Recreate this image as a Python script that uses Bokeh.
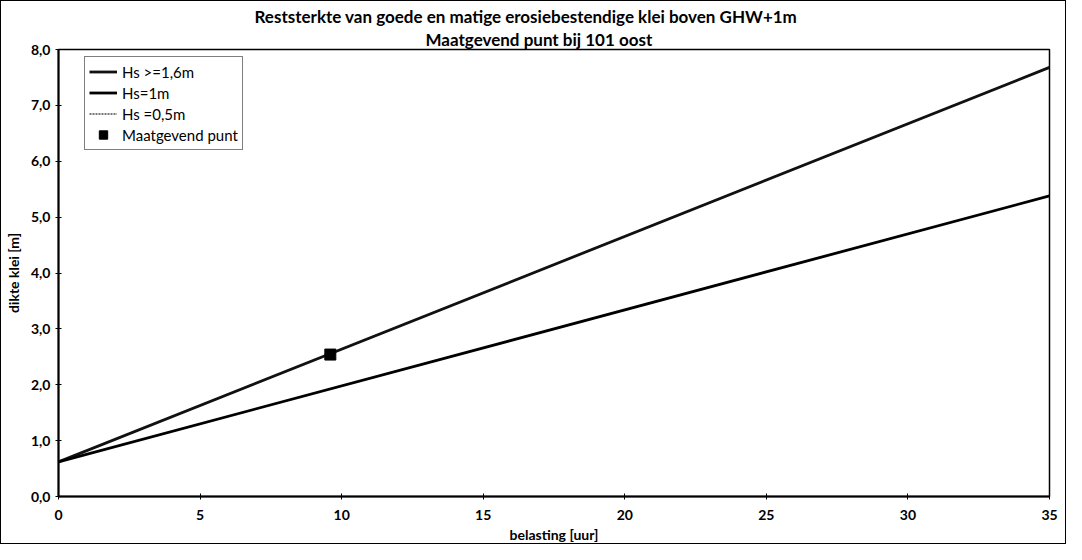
from bokeh.plotting import figure
from bokeh.models import (ColumnDataSource, Title, Legend, LegendItem,
                          CustomJSTickFormatter, FixedTicker, Range1d)
from bokeh.embed import file_html
from bokeh.resources import INLINE

# ---- data ----
belasting = [0, 35]                     # uur
hs_16 = [0.62, 7.68]                    # Hs >= 1,6m
hs_10 = [0.62, 5.38]                    # Hs = 1m
hs_05 = [float("nan"), float("nan")]    # Hs = 0,5m (not visible in chart)
punt_x = [9.6]                          # Maatgevend punt
punt_y = [2.54]

x_ticks = [0, 5, 10, 15, 20, 25, 30, 35]
y_ticks = [0, 1, 2, 3, 4, 5, 6, 7, 8]

title1 = "Reststerkte van goede en matige erosiebestendige klei boven GHW+1m"
title2 = "Maatgevend punt bij 101 oost"

FONT = "Lato"

p = figure(width=1066, height=544, output_backend="svg", toolbar_location=None,
           x_range=Range1d(0, 35), y_range=Range1d(0, 8),
           min_border_left=56, min_border_right=18, min_border_top=48,
           min_border_bottom=46, title=None,
           styles={"border": "1px solid black", "box-sizing": "border-box"})

p.add_layout(Title(text=title2, align="left", text_font=FONT,
                   text_font_size="17px", text_font_style="bold",
                   text_color="black", standoff=0, offset=367), "above")
p.add_layout(Title(text=title1, align="left", text_font=FONT,
                   text_font_size="17px", text_font_style="bold",
                   text_color="black", standoff=0, offset=196), "above")

p.xgrid.visible = False
p.ygrid.visible = False
p.outline_line_color = "black"
p.outline_line_width = 1.5

fmt = CustomJSTickFormatter(code="return tick.toFixed(1).replace('.', ',');")
p.yaxis.formatter = fmt
p.xaxis.ticker = FixedTicker(ticks=x_ticks)
p.yaxis.ticker = FixedTicker(ticks=y_ticks)

for ax in (p.xaxis, p.yaxis):
    ax.axis_line_color = "black"
    ax.axis_line_width = 2
    ax.major_tick_line_color = "black"
    ax.major_tick_in = 3
    ax.major_tick_out = 3
    ax.minor_tick_line_color = None
    ax.major_label_text_font = FONT
    ax.major_label_text_font_size = "14px"
    ax.major_label_text_font_style = "bold"
    ax.major_label_text_color = "black"
    ax.axis_label_text_font = FONT
    ax.axis_label_text_font_size = "14px"
    ax.axis_label_text_font_style = "bold"
    ax.axis_label_text_color = "black"

p.xaxis.axis_label = "belasting [uur]"
p.yaxis.axis_label = "dikte klei [m]"
p.xaxis.major_label_standoff = 10
p.xaxis.axis_label_standoff = 3
p.yaxis.major_label_standoff = 5
p.yaxis.axis_label_standoff = 6

src16 = ColumnDataSource(dict(x=belasting, y=hs_16))
src10 = ColumnDataSource(dict(x=belasting, y=hs_10))
src05 = ColumnDataSource(dict(x=belasting, y=hs_05))
srcp = ColumnDataSource(dict(x=punt_x, y=punt_y))

r16 = p.line("x", "y", source=src16, line_color="#111111", line_width=2.8)
r10 = p.line("x", "y", source=src10, line_color="black", line_width=2.8)
r05 = p.line("x", "y", source=src05, line_color="#777777", line_width=2,
             line_dash="2 1")
rp = p.scatter("x", "y", source=srcp, marker="square", size=11,
               fill_color="black", line_color="black")

legend = Legend(items=[
    LegendItem(label="Hs >=1,6m", renderers=[r16]),
    LegendItem(label="Hs=1m", renderers=[r10]),
    LegendItem(label="Hs =0,5m", renderers=[r05]),
    LegendItem(label="Maatgevend punt", renderers=[rp]),
], location=(26, 346))
legend.label_text_font = FONT
legend.label_text_font_size = "15px"
legend.label_text_color = "black"
legend.glyph_width = 28
legend.glyph_height = 21
legend.label_height = 21
legend.label_standoff = 5
legend.spacing = 0
legend.padding = 4
legend.margin = 0
legend.border_line_color = "black"
legend.border_line_width = 1.5
legend.background_fill_color = "white"
legend.background_fill_alpha = 1
p.add_layout(legend, "center")

open("out.html", "w").write(file_html(p, INLINE))
